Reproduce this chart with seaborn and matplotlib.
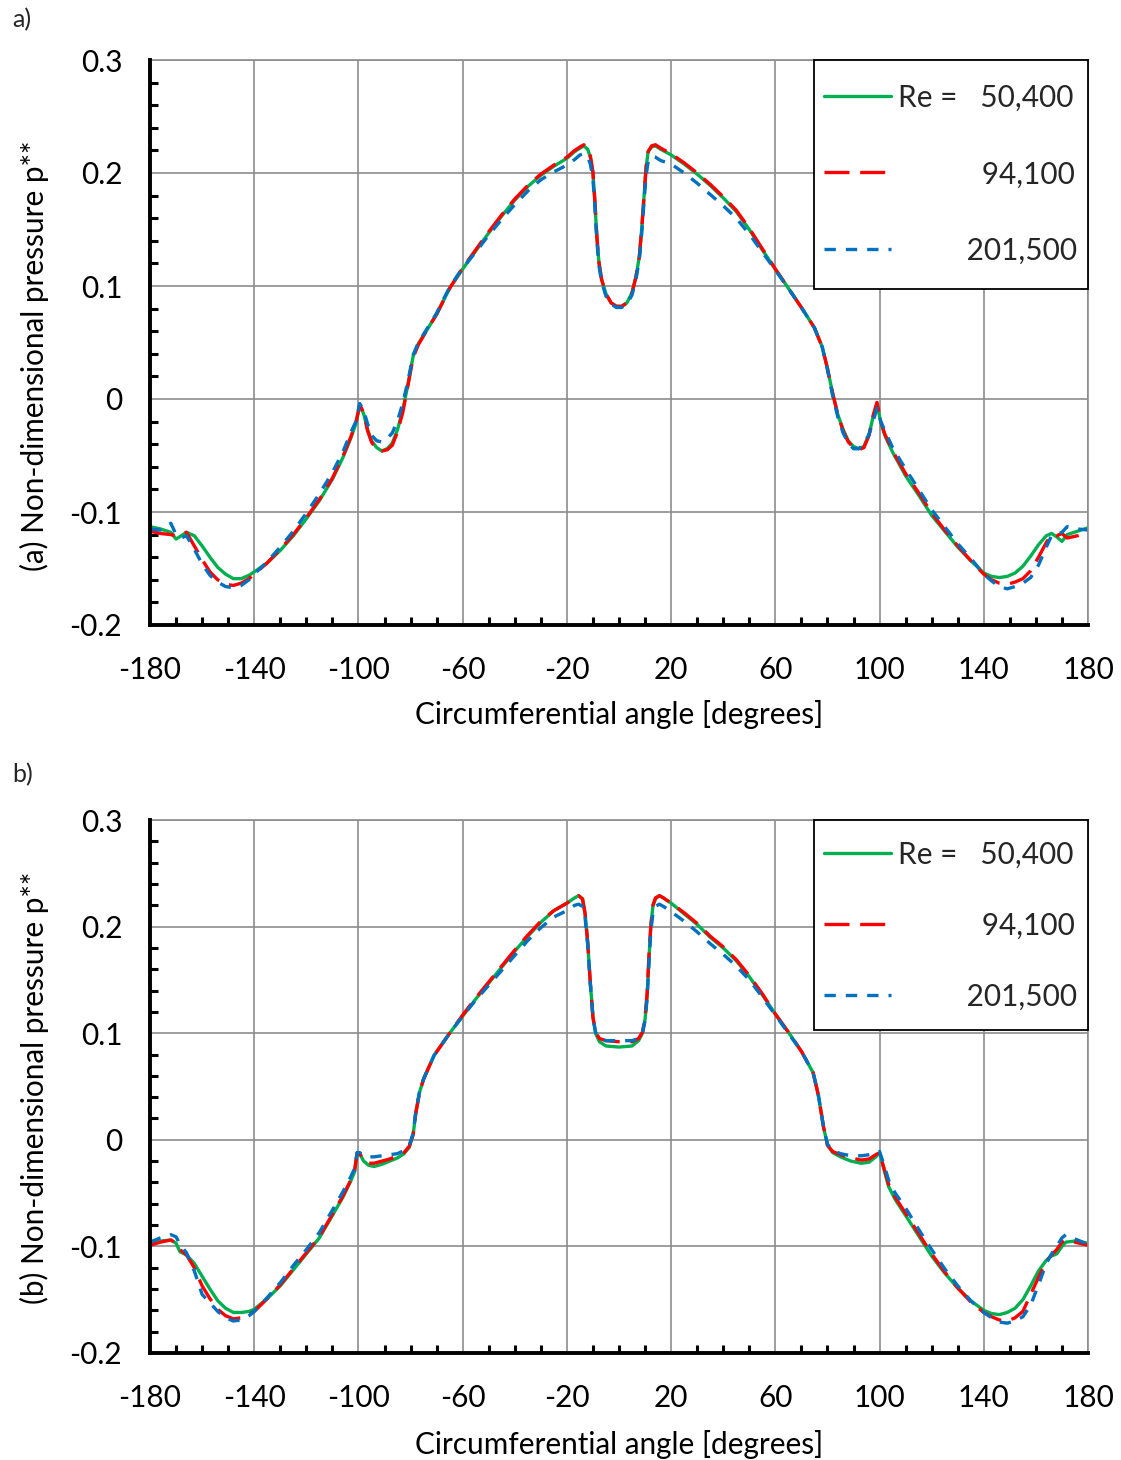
import matplotlib
matplotlib.use("Agg")
import matplotlib.pyplot as plt
import numpy as np
import pandas as pd
import seaborn as sns
from matplotlib.ticker import FixedLocator, MultipleLocator, FuncFormatter
from matplotlib.lines import Line2D

# ---------------- data: panel a ----------------
angle_a = [-180, -176, -172, -170, -168, -166, -163, -160, -157, -154,
           -151, -148, -145, -142, -140, -135, -130, -125, -120, -115,
           -110, -106, -103, -101, -99.5, -98, -96.5, -95, -93, -91,
           -89, -87, -85, -83, -81, -79, -77, -74, -70, -65,
           -60, -55, -50, -45, -40, -35, -30, -25, -20, -17,
           -15, -13.5, -12, -11, -10, -9.2, -8.5, -7.7, -6.7, -5,
           -3, -1, 1, 3, 5, 6.5, 7.8, 8.7, 9.6, 10.4,
           11.2, 12.5, 14, 16, 20, 25, 30, 35, 40, 45,
           50, 55, 60, 65, 70, 75, 78, 80, 82, 84,
           86, 88, 90, 92, 94, 96, 97.5, 99, 100.5, 102,
           105, 110, 115, 120, 125, 130, 135, 140, 143, 146,
           149, 152, 155, 158, 161, 164, 166, 168, 170, 172,
           176, 180]
pa_50400 = [-0.113, -0.115, -0.118, -0.124, -0.121, -0.118, -0.121, -0.130, -0.140, -0.149,
            -0.155, -0.159, -0.159, -0.156, -0.153, -0.145, -0.134, -0.121, -0.106, -0.090,
            -0.071, -0.052, -0.035, -0.022, -0.006, -0.013, -0.027, -0.037, -0.043, -0.046,
            -0.044, -0.039, -0.027, -0.010, 0.013, 0.038, 0.049, 0.060, 0.075, 0.098,
            0.115, 0.131, 0.147, 0.162, 0.176, 0.188, 0.198, 0.206, 0.213, 0.219,
            0.222, 0.224, 0.221, 0.214, 0.200, 0.172, 0.143, 0.121, 0.106, 0.093,
            0.085, 0.082, 0.082, 0.085, 0.094, 0.108, 0.126, 0.150, 0.179, 0.205,
            0.219, 0.223, 0.224, 0.221, 0.216, 0.208, 0.199, 0.189, 0.178, 0.166,
            0.150, 0.132, 0.115, 0.098, 0.081, 0.063, 0.046, 0.027, 0.005, -0.014,
            -0.027, -0.037, -0.042, -0.044, -0.042, -0.031, -0.016, -0.004, -0.021, -0.032,
            -0.047, -0.068, -0.085, -0.103, -0.117, -0.131, -0.143, -0.154, -0.157, -0.158,
            -0.157, -0.154, -0.148, -0.139, -0.129, -0.121, -0.119, -0.122, -0.126, -0.120,
            -0.117, -0.114]
pa_94100 = [-0.117, -0.119, -0.120, -0.121, -0.119, -0.118, -0.130, -0.142, -0.153, -0.160,
            -0.164, -0.165, -0.163, -0.159, -0.155, -0.145, -0.133, -0.120, -0.105, -0.089,
            -0.070, -0.051, -0.034, -0.021, -0.005, -0.012, -0.028, -0.038, -0.045, -0.046,
            -0.045, -0.041, -0.029, -0.012, 0.012, 0.037, 0.048, 0.060, 0.075, 0.098,
            0.116, 0.132, 0.148, 0.163, 0.177, 0.189, 0.199, 0.207, 0.214, 0.220,
            0.223, 0.225, 0.222, 0.215, 0.201, 0.173, 0.144, 0.121, 0.106, 0.093,
            0.085, 0.082, 0.082, 0.085, 0.094, 0.108, 0.126, 0.150, 0.179, 0.205,
            0.219, 0.224, 0.225, 0.222, 0.217, 0.209, 0.200, 0.190, 0.179, 0.167,
            0.151, 0.133, 0.115, 0.098, 0.081, 0.063, 0.046, 0.027, 0.005, -0.014,
            -0.028, -0.038, -0.043, -0.045, -0.043, -0.032, -0.015, -0.003, -0.020, -0.031,
            -0.046, -0.066, -0.083, -0.101, -0.116, -0.130, -0.143, -0.155, -0.160, -0.163,
            -0.164, -0.162, -0.159, -0.152, -0.140, -0.127, -0.120, -0.121, -0.119, -0.123,
            -0.121, -0.118]
pa_201500 = [-0.115, -0.116, -0.110, -0.120, -0.123, -0.121, -0.133, -0.146, -0.156, -0.162,
             -0.166, -0.167, -0.165, -0.160, -0.155, -0.144, -0.131, -0.117, -0.101, -0.084,
             -0.065, -0.047, -0.030, -0.020, -0.004, -0.010, -0.022, -0.032, -0.037, -0.038,
             -0.035, -0.030, -0.019, -0.004, 0.016, 0.039, 0.050, 0.061, 0.076, 0.099,
             0.116, 0.130, 0.145, 0.159, 0.172, 0.184, 0.194, 0.201, 0.207, 0.212,
             0.216, 0.217, 0.214, 0.208, 0.195, 0.168, 0.140, 0.118, 0.104, 0.091,
             0.084, 0.081, 0.081, 0.084, 0.092, 0.106, 0.123, 0.146, 0.174, 0.198,
             0.210, 0.215, 0.214, 0.211, 0.208, 0.200, 0.191, 0.181, 0.171, 0.160,
             0.146, 0.130, 0.114, 0.098, 0.081, 0.063, 0.046, 0.026, 0.003, -0.016,
             -0.030, -0.039, -0.044, -0.044, -0.040, -0.031, -0.020, -0.008, -0.020, -0.028,
             -0.043, -0.062, -0.080, -0.098, -0.113, -0.128, -0.141, -0.155, -0.161, -0.166,
             -0.168, -0.166, -0.163, -0.158, -0.147, -0.131, -0.121, -0.120, -0.118, -0.113,
             -0.115, -0.116]

# ---------------- data: panel b ----------------
angle_b = [-180, -176, -172, -170, -168.5, -166, -163, -160, -157, -154,
           -151, -148, -145, -142, -140, -135, -130, -125, -120, -115,
           -110, -106, -103, -101.5, -100.5, -99.5, -98, -96, -94, -91,
           -88, -85, -82.5, -80.5, -79, -78, -76.5, -75, -71, -65,
           -60, -55, -50, -45, -40, -35, -30, -25, -20, -17,
           -15.5, -14, -13, -12, -11, -10, -9, -7.5, -5, 0,
           5, 7.5, 9, 10, 10.8, 11.5, 12.2, 13, 14, 15.5,
           17, 20, 25, 30, 35, 40, 45, 50, 55, 60,
           65, 70, 74.5, 76.5, 78.5, 80, 82, 85, 89, 93,
           96, 98.5, 100, 101.5, 103.5, 106, 110, 115, 120, 125,
           130, 135, 140, 143, 146, 149, 152, 155, 158, 161,
           164, 166, 168, 170, 171.5, 175, 180]
pb_50400 = [-0.097, -0.095, -0.094, -0.097, -0.105, -0.108, -0.116, -0.128, -0.140, -0.151,
            -0.158, -0.162, -0.162, -0.161, -0.159, -0.149, -0.137, -0.122, -0.107, -0.092,
            -0.071, -0.054, -0.039, -0.030, -0.013, -0.013, -0.020, -0.024, -0.025, -0.023,
            -0.020, -0.017, -0.013, -0.007, 0.005, 0.025, 0.045, 0.057, 0.079, 0.100,
            0.116, 0.132, 0.147, 0.162, 0.177, 0.191, 0.204, 0.215, 0.222, 0.227,
            0.229, 0.226, 0.212, 0.185, 0.147, 0.115, 0.100, 0.092, 0.088, 0.087,
            0.088, 0.093, 0.100, 0.113, 0.135, 0.170, 0.200, 0.219, 0.226, 0.229,
            0.227, 0.222, 0.212, 0.202, 0.190, 0.180, 0.168, 0.153, 0.136, 0.118,
            0.101, 0.083, 0.063, 0.042, 0.012, -0.005, -0.012, -0.016, -0.020, -0.022,
            -0.021, -0.016, -0.012, -0.026, -0.044, -0.056, -0.071, -0.090, -0.109, -0.125,
            -0.139, -0.151, -0.160, -0.163, -0.164, -0.162, -0.158, -0.150, -0.137, -0.123,
            -0.113, -0.109, -0.107, -0.100, -0.096, -0.095, -0.097]
pb_94100 = [-0.099, -0.096, -0.094, -0.097, -0.103, -0.108, -0.120, -0.137, -0.149, -0.159,
            -0.165, -0.168, -0.167, -0.164, -0.161, -0.149, -0.136, -0.121, -0.106, -0.091,
            -0.070, -0.053, -0.038, -0.029, -0.012, -0.013, -0.019, -0.022, -0.022, -0.020,
            -0.018, -0.015, -0.012, -0.006, 0.005, 0.025, 0.045, 0.057, 0.079, 0.100,
            0.117, 0.133, 0.148, 0.163, 0.178, 0.192, 0.205, 0.215, 0.222, 0.227,
            0.229, 0.226, 0.212, 0.185, 0.147, 0.115, 0.101, 0.095, 0.093, 0.092,
            0.092, 0.095, 0.101, 0.114, 0.138, 0.173, 0.200, 0.220, 0.227, 0.229,
            0.227, 0.222, 0.213, 0.203, 0.191, 0.181, 0.169, 0.154, 0.137, 0.118,
            0.101, 0.083, 0.063, 0.042, 0.012, -0.005, -0.011, -0.014, -0.017, -0.019,
            -0.018, -0.014, -0.012, -0.025, -0.042, -0.054, -0.069, -0.088, -0.107, -0.124,
            -0.139, -0.152, -0.162, -0.166, -0.169, -0.170, -0.167, -0.161, -0.145, -0.129,
            -0.114, -0.108, -0.103, -0.096, -0.094, -0.096, -0.099]
pb_201500 = [-0.096, -0.092, -0.089, -0.091, -0.098, -0.106, -0.123, -0.145, -0.153, -0.161,
             -0.167, -0.170, -0.169, -0.165, -0.161, -0.148, -0.134, -0.118, -0.103, -0.087,
             -0.066, -0.049, -0.035, -0.027, -0.012, -0.012, -0.015, -0.016, -0.016, -0.015,
             -0.014, -0.013, -0.010, -0.005, 0.006, 0.026, 0.046, 0.057, 0.079, 0.100,
             0.116, 0.131, 0.145, 0.159, 0.173, 0.187, 0.199, 0.209, 0.215, 0.220,
             0.221, 0.219, 0.208, 0.182, 0.146, 0.115, 0.101, 0.095, 0.093, 0.093,
             0.093, 0.095, 0.100, 0.112, 0.133, 0.166, 0.195, 0.212, 0.219, 0.221,
             0.219, 0.214, 0.205, 0.195, 0.184, 0.174, 0.163, 0.150, 0.134, 0.117,
             0.100, 0.083, 0.063, 0.042, 0.012, -0.004, -0.010, -0.013, -0.015, -0.015,
             -0.014, -0.013, -0.011, -0.022, -0.038, -0.050, -0.064, -0.084, -0.103, -0.121,
             -0.137, -0.151, -0.162, -0.167, -0.171, -0.172, -0.170, -0.166, -0.155, -0.136,
             -0.116, -0.107, -0.100, -0.092, -0.089, -0.093, -0.098]

re_labels = ["50,400", "94,100", "201,500"]
x_ticks = [-180, -140, -100, -60, -20, 20, 60, 100, 140, 180]
y_ticks = [-0.2, -0.1, 0.0, 0.1, 0.2, 0.3]
x_label = "Circumferential angle [degrees]"
y_label_a = "(a) Non-dimensional pressure p**"
y_label_b = "(b) Non-dimensional pressure p**"

# ---------------- style ----------------
sns.set_theme(style="white")
plt.rcParams['font.family'] = ['Lato', 'DejaVu Sans']
plt.rcParams['axes.unicode_minus'] = False

FS = 21.4
LW = 2.4
palette = {"50,400": "#00B050", "94,100": "#FF0000", "201,500": "#0070C0"}
dash_map = {"50,400": "", "94,100": (7.5, 3.2), "201,500": (3.4, 3.0)}

W, H = 1121, 1460
fig = plt.figure(figsize=(W / 100, H / 100), dpi=100)
ax_a = fig.add_axes([150 / W, 1 - 625 / H, 938 / W, 565 / H])
ax_b = fig.add_axes([150 / W, 1 - 1353 / H, 938 / W, 533 / H])


def make_df(angle, series):
    frames = []
    for lab, vals in zip(re_labels, series):
        frames.append(pd.DataFrame({"angle": angle, "p": vals, "Re": lab}))
    return pd.concat(frames, ignore_index=True)


df_a = make_df(angle_a, [pa_50400, pa_94100, pa_201500])
df_b = make_df(angle_b, [pb_50400, pb_94100, pb_201500])

xfmt = FuncFormatter(lambda v, pos: f"{v:.0f}")
yfmt = FuncFormatter(lambda v, pos: "0" if abs(v) < 1e-9 else f"{v:.1f}")


def measure(s):
    r = fig.canvas.get_renderer()
    t = fig.text(0, 0, s, fontsize=FS)
    w = t.get_window_extent(r).width
    t.remove()
    return w


def aligned_labels():
    first = "Re =   " + re_labels[0]
    wf = measure(first)
    sp = measure("a a") - measure("aa")
    out = [first]
    for lab in re_labels[1:]:
        n = max(0, int(round((wf - measure(lab)) / sp)))
        out.append(" " * n + lab)
    return out


def style_axes(ax, df, ylabel, ylab_y, xlab_y, labelspacing, handleheight, hshift):
    sns.lineplot(data=df, x="angle", y="p", hue="Re", style="Re",
                 hue_order=re_labels, style_order=re_labels,
                 palette=palette, dashes=dash_map, linewidth=LW,
                 estimator=None, sort=False, legend=False, ax=ax)
    ax.set_xlim(-180, 180)
    ax.set_ylim(-0.2, 0.3)
    ax.xaxis.set_major_locator(FixedLocator(x_ticks))
    ax.xaxis.set_minor_locator(FixedLocator(np.arange(-180, 181, 10)))
    ax.yaxis.set_major_locator(FixedLocator(y_ticks))
    ax.yaxis.set_minor_locator(MultipleLocator(0.02))
    ax.xaxis.set_major_formatter(xfmt)
    ax.yaxis.set_major_formatter(yfmt)
    ax.grid(True, which="major", color="#8c8c8c", linewidth=1.2)
    ax.set_axisbelow(True)
    for s in ["left", "bottom"]:
        ax.spines[s].set_color("black")
        ax.spines[s].set_linewidth(2.8)
        ax.spines[s].set_zorder(5)
    for s in ["top", "right"]:
        ax.spines[s].set_color("#8c8c8c")
        ax.spines[s].set_linewidth(1.2)
    ax.tick_params(which="major", direction="inout", length=12, width=2.4,
                   color="black", labelsize=FS, labelcolor="black")
    ax.tick_params(axis="x", which="major", pad=16)
    ax.tick_params(axis="y", which="major", pad=14)
    ax.tick_params(which="minor", direction="in", length=6, width=2.2,
                   color="black", bottom=True, left=True)
    ax.set_xlabel(x_label, fontsize=FS, color="black")
    ax.set_ylabel(ylabel, fontsize=FS, color="black")
    ax.xaxis.set_label_coords(0.5, xlab_y)
    ax.yaxis.set_label_coords(-0.108, ylab_y)

    handles = [Line2D([], [], color=palette[re_labels[0]], linewidth=LW, linestyle="-"),
               Line2D([], [], color=palette[re_labels[1]], linewidth=LW,
                      linestyle=(0, dash_map[re_labels[1]])),
               Line2D([], [], color=palette[re_labels[2]], linewidth=LW,
                      linestyle=(0, dash_map[re_labels[2]]))]
    leg = ax.legend(handles, aligned_labels(), loc="upper right",
                    bbox_to_anchor=(1.0, 1.0), borderaxespad=0.0,
                    fontsize=FS, frameon=True, fancybox=False,
                    framealpha=1.0, edgecolor="black",
                    handlelength=2.25, handletextpad=0.25,
                    handleheight=handleheight,
                    labelspacing=labelspacing, borderpad=0.35)
    leg.get_frame().set_linewidth(1.3)
    leg.set_zorder(10)
    # centre the legend sample lines on the text rows
    for ln in leg.get_lines():
        ln.set_ydata(np.asarray(ln.get_ydata()) - hshift)


style_axes(ax_a, df_a, y_label_a, 0.476, -0.132, 0.72, 2.48, 5.0)
style_axes(ax_b, df_b, y_label_b, 0.497, -0.144, 0.80, 2.07, 4.3)

fig.text(12 / W, 1 - 20 / H, "a)", fontsize=18, ha="left", va="center")
fig.text(12 / W, 1 - 775 / H, "b)", fontsize=18, ha="left", va="center")

fig.savefig("out.png", dpi=100)
